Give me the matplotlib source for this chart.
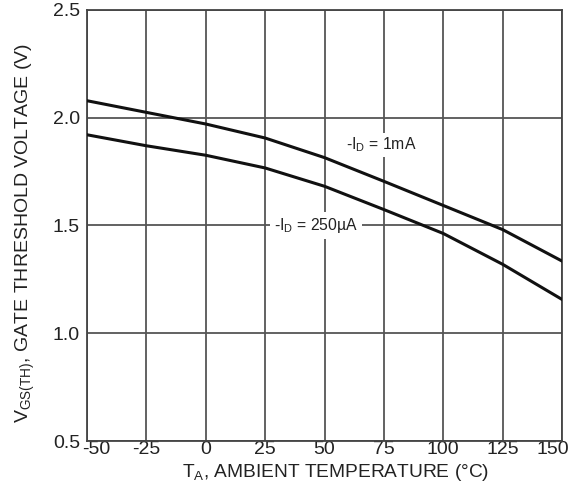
import matplotlib
matplotlib.use("Agg")
import matplotlib.pyplot as plt
from matplotlib.transforms import ScaledTranslation

temps = [-50, -25, 0, 25, 50, 75, 100, 125, 150]
vth_1mA = [2.079, 2.025, 1.971, 1.906, 1.815, 1.705, 1.593, 1.481, 1.335]
vth_250uA = [1.921, 1.870, 1.826, 1.767, 1.682, 1.574, 1.463, 1.320, 1.157]
xticks = [-50, -25, 0, 25, 50, 75, 100, 125, 150]
yticks = [0.5, 1.0, 1.5, 2.0, 2.5]

plt.rcParams['font.family'] = ['Liberation Sans', 'DejaVu Sans']
plt.rcParams['mathtext.fontset'] = 'custom'
plt.rcParams['mathtext.rm'] = 'Liberation Sans'
plt.rcParams['mathtext.it'] = 'Liberation Sans'

W, H = 580, 490
fig = plt.figure(figsize=(5.8, 4.9), dpi=100)
ax = fig.add_axes([87 / W, 1 - 441 / H, 475 / W, 431 / H])

ax.plot(temps, vth_1mA, color='#111111', lw=2.2, zorder=3)
ax.plot(temps, vth_250uA, color='#111111', lw=2.2, zorder=3)

ax.set_xlim(-50, 150)
ax.set_ylim(0.5, 2.5)
ax.set_xticks(xticks)
ax.set_yticks(yticks)
ax.set_xticklabels([str(t) for t in xticks])
ax.set_yticklabels([f"{v:.1f}" for v in yticks])
ax.grid(True, color='#555555', lw=1.3)
ax.set_axisbelow(True)
for s in ax.spines.values():
    s.set_color('#444444')
    s.set_linewidth(1.3)
ax.tick_params(length=0, labelsize=14, colors='#222222')
ax.tick_params(axis='x', pad=0)
ax.tick_params(axis='y', pad=5)

# edge tick labels are nudged inward in the reference
xl = ax.get_xticklabels()
xl[0].set_transform(xl[0].get_transform() + ScaledTranslation(0.09, 0, fig.dpi_scale_trans))
xl[-1].set_transform(xl[-1].get_transform() + ScaledTranslation(-0.09, 0, fig.dpi_scale_trans))

fig.text(336 / W, 1 - 472 / H, r"T$_\mathregular{A}$, AMBIENT TEMPERATURE (°C)",
         fontsize=13.8, color='#222222', ha='center', va='center')
fig.text(25 / W, 1 - 233 / H, r"V$_\mathregular{GS(TH)}$, GATE THRESHOLD VOLTAGE (V)",
         fontsize=14, color='#222222', ha='center', va='center', rotation=90)

ax.text(74, 1.873, r"-I$_\mathregular{D}$ = 1mA", fontsize=11.3, color='#222222',
        ha='center', va='center', bbox=dict(facecolor='white', edgecolor='none', pad=2))
ax.text(46.5, 1.5, r"-I$_\mathregular{D}$ = 250µA", fontsize=11.3, color='#222222',
        ha='center', va='center', bbox=dict(facecolor='white', edgecolor='none', pad=3))

fig.savefig("out.png", dpi=100)
